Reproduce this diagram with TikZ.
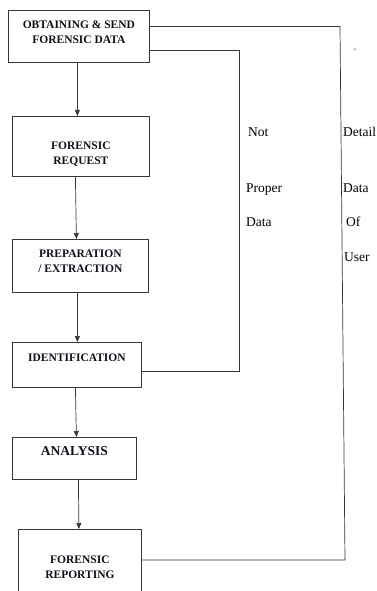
\documentclass[tikz,border=0pt]{standalone}
\usepackage{fontspec}
\setmainfont{Liberation Serif}
\usepackage{tikz}
\usetikzlibrary{calc, positioning, arrows.meta}
\definecolor{LineGrey}{RGB}{55, 55, 55}
\definecolor{InkBlack}{RGB}{15, 15, 25}

\begin{document}
\begin{tikzpicture}[x=1pt, y=-1pt,
    box/.style={draw=LineGrey, line width=0.8pt, align=center, inner sep=0pt, anchor=north west,
        text=InkBlack, font=\bfseries\fontsize{11.5}{15.5}\selectfont},
    flow/.style={-{Triangle[length=6pt, width=5pt]}, LineGrey, line width=0.7pt},
    link/.style={LineGrey, line width=0.7pt},
    tag/.style={anchor=base west, inner sep=0pt, font=\fontsize{13.5}{15}\selectfont}]
    \useasboundingbox (0,0) rectangle (377,591);
    \clip (0,0) rectangle (377,591);

    % Etapas
    \node[box, minimum width=141, minimum height=52, text height=33.5pt, text depth=18.5pt] (obtain) at (8,10) {OBTAINING \& SEND\\FORENSIC DATA};
    \node[box, minimum width=137, minimum height=60, text height=48.5pt, text depth=11.5pt] (request) at (12,116) {FORENSIC\\REQUEST};
    \node[box, minimum width=136, minimum height=53, text height=33.5pt, text depth=19.5pt] (prepare) at (12,239) {PREPARATION\\/ EXTRACTION};
    \node[box, minimum width=129, minimum height=45, text height=19pt, text depth=26pt] (ident) at (12,342) {IDENTIFICATION};
    \node[box, minimum width=124, minimum height=42, text height=18pt, text depth=24pt,
        font=\bfseries\fontsize{13.5}{15.5}\selectfont] (analysis) at (12,437) {ANALYSIS};
    \node[box, minimum width=123, minimum height=72, text height=49.5pt, text depth=22.5pt] (report) at (18,529) {FORENSIC\\REPORTING};

    % Flujo principal
    \draw[flow] ([xshift=-1.5pt]obtain.south) -- ([xshift=-3.5pt]request.north);
    \draw[flow] ([xshift=-5.5pt]request.south) -- ([xshift=-4pt]prepare.north);
    \draw[flow] ([xshift=-3pt]prepare.south) -- ([xshift=0.5pt]ident.north);
    \draw[flow] ([xshift=-1.5pt]ident.south) -- ([xshift=2pt]analysis.north);
    \draw[flow] ([xshift=4pt]analysis.south) -- ([xshift=-1pt]report.north);

    % Retorno: datos no validos
    \coordinate (properTop) at (239.5,50.5);
    \coordinate (properBot) at (239.5,371);
    \draw[link] (obtain.east |- properTop) -- (properTop) -- (properBot) -- (properBot -| ident.east);
    \node[tag] (notlbl) at (248,136) {Not};
    \node[tag] (properlbl) at (246,192) {Proper};
    \node[tag] (datalbl) at (246,226) {Data};

    % Retorno: datos del usuario
    \coordinate (userTop) at (340,26.5);
    \coordinate (userBot) at (345,560);
    \draw[link] (obtain.east |- userTop) -- (userTop) -- (userBot) -- (userBot -| report.east);
    \node[tag] (detaillbl) at (343,136) {Detail};
    \node[tag] (udatalbl) at (343,192) {Data};
    \node[tag] (oflbl) at (346,226) {Of};
    \node[tag] (userlbl) at (344,261) {User};
    \node[font=\fontsize{8}{8}\selectfont, inner sep=0pt] (dash) at (355,50.5) {-};
\end{tikzpicture}
\end{document}
